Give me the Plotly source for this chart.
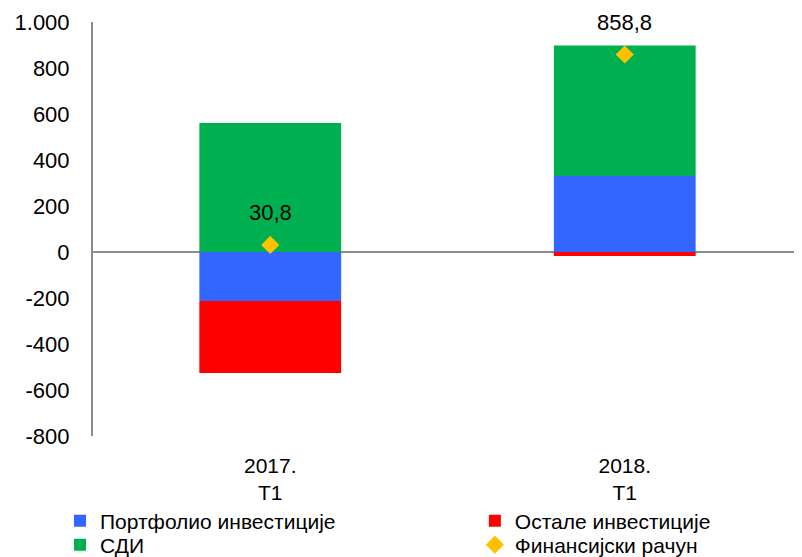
import plotly.graph_objects as go

categories = ["2017.<br>T1", "2018.<br>T1"]
portfolio = [-213, 330]
ostale = [-313, -17]
sdi = [561, 568]
fin = [30.8, 858.8]
fin_labels = ["30,8", "858,8"]
ytick_vals = [-800, -600, -400, -200, 0, 200, 400, 600, 800, 1000]
ytick_text = ["-800", "-600", "-400", "-200", "0", "200", "400", "600", "800", "1.000"]

FONT = "Liberation Sans, Arial, sans-serif"
FS = 22
LFS = 21

fig = go.Figure()
fig.add_trace(go.Bar(x=categories, y=portfolio, name="Портфолио инвестиције",
                     marker=dict(color="#3366FF", line=dict(width=0)), legend="legend"))
fig.add_trace(go.Bar(x=categories, y=ostale, name="Остале инвестиције",
                     marker=dict(color="#FF0000", line=dict(width=0)), legend="legend2"))
fig.add_trace(go.Bar(x=categories, y=sdi, name="СДИ",
                     marker=dict(color="#00B050", line=dict(width=0)), legend="legend3"))
fig.add_trace(go.Scatter(x=categories, y=fin, name="Финансијски рачун", mode="markers",
                         marker=dict(symbol="diamond", size=14, color="#FFC000"),
                         legend="legend4"))

for c, v, t in zip(categories, fin, fin_labels):
    fig.add_annotation(x=c, y=v, text=t, showarrow=False, yshift=32,
                       font=dict(size=FS, family=FONT, color="#000000"))

def leg(x, y):
    return dict(x=x, y=y, xref="container", yref="container",
                xanchor="left", yanchor="middle", orientation="h",
                font=dict(size=LFS, family=FONT, color="#000000"),
                bgcolor="rgba(0,0,0,0)", borderwidth=0)

fig.update_layout(
    width=794, height=549,
    barmode="relative",
    bargap=0.6,
    separators=",.",
    paper_bgcolor="white", plot_bgcolor="white",
    margin=dict(l=85, r=0, t=14, b=121),
    font=dict(family=FONT, size=FS, color="#000000"),
    showlegend=True,
    legend=leg(0.0655, 0.0656),
    legend2=leg(0.588, 0.0656),
    legend3=leg(0.0655, 0.0219),
    legend4=leg(0.588, 0.0219),
    xaxis=dict(showline=False, showgrid=False, ticks="", tickfont=dict(size=21),
               ticklabelstandoff=15, automargin=False),
    yaxis=dict(range=[-800, 1000], tickvals=ytick_vals, ticktext=ytick_text,
               showgrid=False, automargin=False,
               showline=True, linecolor="#8C8C8C", linewidth=2,
               zeroline=True, zerolinecolor="#8C8C8C", zerolinewidth=2,
               ticks="", tickfont=dict(size=FS),
               ticklabelstandoff=17),
)

fig.write_html("out.html")
